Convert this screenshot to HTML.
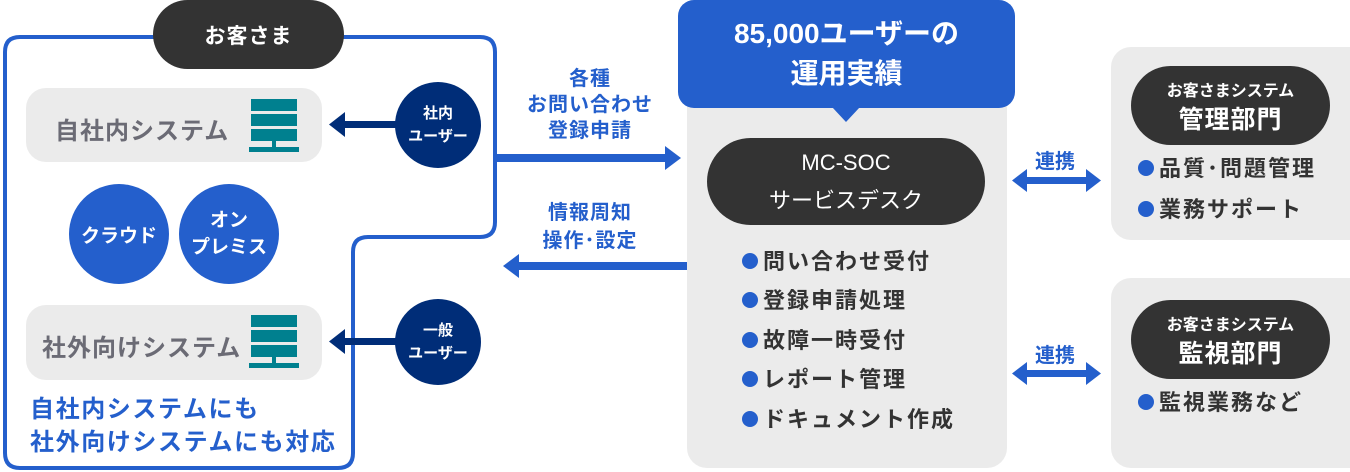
<!DOCTYPE html>
<html><head><meta charset="utf-8"><style>
body{margin:0;width:1350px;height:472px;background:#fff;position:relative;overflow:hidden;font-family:"Liberation Sans","Noto Sans CJK JP",sans-serif;font-weight:bold}
.a{position:absolute}
.c{display:flex;flex-direction:column;align-items:center;justify-content:center;text-align:center}
.pill{background:#333;color:#fff;border-radius:45px}
.gbox{background:#ebebeb;border-radius:20px}
.circ{border-radius:50%;color:#fff}
.bl{position:absolute;color:#333;font-size:22px;letter-spacing:2px;white-space:nowrap;line-height:26px}
.bl::before{content:"";display:inline-block;width:16px;height:16px;border-radius:50%;background:#245fcc;margin-right:5px;vertical-align:0px}
</style></head><body>
<svg class="a" style="left:0;top:0" width="1350" height="472">
<path d="M20 37 H480 Q495 37 495 52 V222 Q495 237 480 237 H368 Q353 237 353 252 V453 Q353 468 338 468 H20 Q5 468 5 453 V52 Q5 37 20 37 Z" fill="none" stroke="#245fcc" stroke-width="4"/>
<rect x="344" y="121" width="55" height="7" fill="#002d78"/><polygon points="329,124.5 345,112 345,137" fill="#002d78"/>
<rect x="344" y="338" width="55" height="7" fill="#002d78"/><polygon points="329,341.5 345,329 345,354" fill="#002d78"/>
<rect x="497" y="154" width="170" height="8" fill="#245fcc"/><polygon points="681,158 665,146 665,170" fill="#245fcc"/>
<rect x="518" y="262" width="170" height="8" fill="#245fcc"/><polygon points="503,266 519,254 519,278" fill="#245fcc"/>
<g fill="#245fcc"><rect x="1025" y="177" width="64" height="7"/><polygon points="1012,180.5 1027,169 1027,192"/><polygon points="1101,180.5 1086,169 1086,192"/>
<rect x="1025" y="370" width="64" height="7"/><polygon points="1012,373.5 1027,362 1027,385"/><polygon points="1101,373.5 1086,362 1086,385"/></g>
</svg>
<div class="a c pill" style="left:153px;top:0;width:191px;height:69px;font-size:21px;letter-spacing:1px">お客さま</div>
<div class="a gbox" style="left:26px;top:88px;width:296px;height:74px"></div>
<div class="a" style="left:55px;top:111px;font-size:24px;letter-spacing:1px;color:#6b6b75">自社内システム</div>
<div class="a gbox" style="left:26px;top:305px;width:296px;height:75px"></div>
<div class="a" style="left:42px;top:328px;font-size:24px;letter-spacing:1px;color:#6b6b75">社外向けシステム</div>
<svg class="a" style="left:249px;top:99px" width="50" height="54"><g fill="#00808f"><rect x="2" y="0" width="46" height="12"/><rect x="2" y="15" width="46" height="12"/><rect x="2" y="30" width="46" height="12"/><rect x="23" y="42" width="4" height="8"/><rect x="0" y="48" width="50" height="5"/></g></svg>
<svg class="a" style="left:249px;top:315px" width="50" height="54"><g fill="#00808f"><rect x="2" y="0" width="46" height="12"/><rect x="2" y="15" width="46" height="12"/><rect x="2" y="30" width="46" height="12"/><rect x="23" y="42" width="4" height="8"/><rect x="0" y="48" width="50" height="5"/></g></svg>
<div class="a c circ" style="left:395px;top:82px;width:86px;height:86px;background:#002d78;font-size:15px;line-height:23px">社内<br>ユーザー</div>
<div class="a c circ" style="left:395px;top:299px;width:86px;height:86px;background:#002d78;font-size:15px;line-height:23px">一般<br>ユーザー</div>
<div class="a c circ" style="left:69px;top:184px;width:100px;height:100px;background:#245fcc;font-size:19px">クラウド</div>
<div class="a c circ" style="left:179px;top:184px;width:100px;height:100px;background:#245fcc;font-size:19px;line-height:27px">オン<br>プレミス</div>
<div class="a" style="left:30px;top:393px;font-size:24px;letter-spacing:1.6px;line-height:33px;color:#245fcc;white-space:nowrap">自社内システムにも<br>社外向けシステムにも対応</div>
<div class="a" style="left:490px;top:66px;width:200px;text-align:center;font-size:20px;letter-spacing:1px;line-height:26px;color:#245fcc">各種<br>お問い合わせ<br>登録申請</div>
<div class="a" style="left:490px;top:199px;width:200px;text-align:center;font-size:20px;letter-spacing:1px;line-height:28px;color:#245fcc">情報周知<br>操作･設定</div>
<div class="a gbox" style="left:687px;top:20px;width:320px;height:448px"></div>
<div class="a c" style="left:678px;top:0;width:337px;height:108px;background:#245fcc;border-radius:16px;color:#fff;font-size:28px;line-height:40px">85,000ユーザーの<br>運用実績</div>
<div class="a" style="left:832px;top:107px;width:0;height:0;border-left:14px solid transparent;border-right:14px solid transparent;border-top:15px solid #245fcc"></div>
<div class="a c pill" style="left:707px;top:138px;width:278px;height:87px;font-size:22px;line-height:38px;font-weight:normal">MC-SOC<br>サービスデスク</div>
<div class="bl" style="left:742px;top:249px">問い合わせ受付</div>
<div class="bl" style="left:742px;top:288px">登録申請処理</div>
<div class="bl" style="left:742px;top:328px">故障一時受付</div>
<div class="bl" style="left:742px;top:367px">レポート管理</div>
<div class="bl" style="left:742px;top:407px">ドキュメント作成</div>
<div class="a" style="left:1035px;top:145px;font-size:20px;color:#245fcc">連携</div>
<div class="a" style="left:1035px;top:339px;font-size:20px;color:#245fcc">連携</div>
<div class="a gbox" style="left:1111px;top:47px;width:260px;height:193px"></div>
<div class="a gbox" style="left:1111px;top:278px;width:260px;height:190px"></div>
<div class="a c pill" style="left:1131px;top:66px;width:199px;height:79px;font-size:16px;line-height:28px;white-space:nowrap"><div>お客さまシステム</div><div style="font-size:25px;letter-spacing:1px">管理部門</div></div>
<div class="a c pill" style="left:1131px;top:300px;width:199px;height:79px;font-size:16px;line-height:28px;white-space:nowrap"><div>お客さまシステム</div><div style="font-size:25px;letter-spacing:1px">監視部門</div></div>
<div class="bl" style="left:1138px;top:156px">品質･問題管理</div>
<div class="bl" style="left:1138px;top:197px">業務サポート</div>
<div class="bl" style="left:1138px;top:390px">監視業務など</div>
</body></html>
